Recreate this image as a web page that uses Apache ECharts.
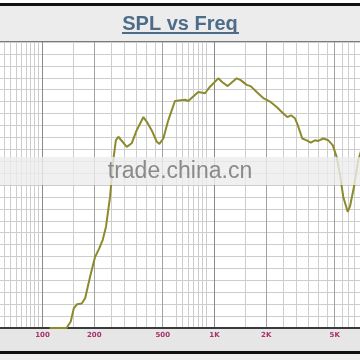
<!DOCTYPE html>
<html><head><meta charset="utf-8">
<script src="https://cdn.jsdelivr.net/npm/echarts@6/dist/echarts.min.js"></script>
<style>html,body{margin:0;padding:0;background:#fff}#c{width:360px;height:360px}</style>
</head><body><div id="c"></div>
<script>
const freqs = [110,138,146,152,159,169,177,189,202,214,224,234,247,258,267,276,309,330,353,386,404,431,461,478,504,539,589,674,704,805,881,942,1052,1116,1193,1346,1420,1539,1623,1759,1921,2102,2299,2512,2651,2785,2938,3046,3239,3436,3625,3840,4013,4292,4587,4867,5135,5366,5609,5950,6135,6471,6855,7204];
const spl = [60,60,61.1,63.3,64.0,64.1,65.0,68.6,71.9,73.4,74.8,77.0,82.0,88.2,91.5,92.1,90.4,91.0,93.2,95.4,94.6,93.2,91.3,90.9,91.8,94.9,98.1,98.3,98.1,99.6,99.4,100.5,101.9,101.2,100.6,101.9,101.6,100.8,100.6,99.6,98.6,98.0,97.1,96.0,95.4,95.7,95.2,94.1,91.8,91.5,91.1,91.5,91.4,91.8,91.5,90.7,88.7,85.7,82.0,79.5,80.4,83.7,88.2,90.2];
const gridFreqs = [60,65,70,75,80,85,90,95,100,150,200,250,300,350,400,450,500,600,650,700,750,800,850,900,1000,1500,2000,2500,3000,3500,4000,4500,5000,5500,6000,6500];
const majorFreqs = [100,1000];
const mediumFreqs = [200,500,2000,5000];
const labelFreqs = [100,200,500,1000,2000,5000];
const titleText = 'SPL vs Freq';

const gridColors = gridFreqs.map(f => majorFreqs.includes(f) ? '#8a8a8a' : (mediumFreqs.includes(f) ? '#a2a2a2' : '#cdcdcd'));

const chart = echarts.init(document.getElementById('c'));
chart.setOption({
  backgroundColor: '#ffffff',
  animation: false,
  title: {
    text: titleText, left: 'center', top: 9,
    textStyle: { fontFamily: 'Liberation Sans', fontSize: 20, fontWeight: 'bold', color: '#4d6c89' }
  },
  grid: { left: 0, right: 0, top: 42, bottom: 32, outerBoundsMode: 'none' },
  xAxis: {
    type: 'log', logBase: 10, min: 56.6, max: 7015,
    axisLine: { show: true, lineStyle: { color: '#3a3a3a', width: 2 } },
    axisTick: { show: false, customValues: gridFreqs },
    axisLabel: {
      customValues: labelFreqs, margin: 4,
      color: '#a8306a', fontFamily: 'DejaVu Sans', fontSize: 7, fontWeight: 'bold',
      formatter: v => v >= 1000 ? (v / 1000) + 'K' : String(v)
    },
    splitLine: { show: true, lineStyle: { color: gridColors, width: 1 } },
    minorTick: { show: false }, minorSplitLine: { show: false }
  },
  yAxis: {
    type: 'value', min: 60, max: 108, interval: 2,
    axisLine: { show: false }, axisTick: { show: false }, axisLabel: { show: false },
    splitLine: { show: true, lineStyle: { color: '#cdcdcd', width: 1 } }
  },
  graphic: [
    { type: 'rect', z: -10, shape: { x: 0, y: 3, width: 360, height: 3 }, style: { fill: '#111' } },
    { type: 'rect', z: -10, shape: { x: 0, y: 6, width: 360, height: 35 }, style: { fill: '#ececec' } },
    { type: 'line', z: 10, shape: { x1: 0, y1: 41.5, x2: 360, y2: 41.5 }, style: { stroke: '#7a7a7a', lineWidth: 1 } },
    { type: 'line', z: 10, shape: { x1: 122, y1: 33, x2: 239, y2: 33 }, style: { stroke: '#4d6c89', lineWidth: 2 } },
    { type: 'rect', z: -10, shape: { x: 0, y: 329, width: 360, height: 22 }, style: { fill: '#e6e6e6' } },
    { type: 'rect', z: -10, shape: { x: 0, y: 351, width: 360, height: 3 }, style: { fill: '#111' } },
    { type: 'rect', z: -10, shape: { x: 0, y: 354, width: 360, height: 6 }, style: { fill: '#f0f0f0' } },
    { type: 'rect', z: 100, shape: { x: 0, y: 157, width: 360, height: 28 }, style: { fill: 'rgba(236,236,236,0.8)' } },
    { type: 'text', z: 101, left: 'center', top: 160, style: { text: 'trade.china.cn', font: '23px "Liberation Sans"', fill: '#8a8a8a' } }
  ],
  series: [{
    type: 'line', showSymbol: false, smooth: false, z: 5,
    data: freqs.map((f, i) => [f, spl[i]]),
    lineStyle: { color: '#8c8a2c', width: 2 }
  }]
});
</script>
</body></html>
